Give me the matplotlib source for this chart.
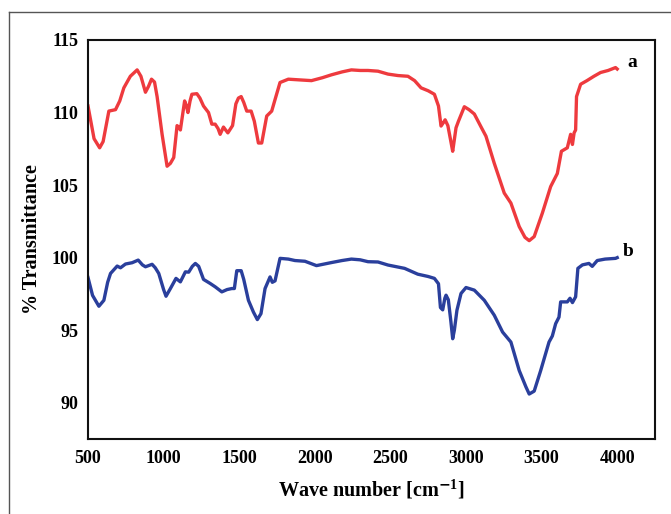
import matplotlib
matplotlib.use("Agg")
import matplotlib.pyplot as plt
from matplotlib.lines import Line2D

wn_a = [500, 540, 577, 600, 638, 682, 710, 737, 780, 825, 850, 880, 900, 920, 940, 957, 990,
        1023, 1045, 1067, 1089, 1100, 1111, 1125, 1139, 1150, 1161, 1175, 1187, 1220, 1240,
        1264, 1297, 1319, 1341, 1360, 1374, 1396, 1410, 1425, 1456, 1478, 1495, 1513, 1530,
        1550, 1579, 1600, 1627, 1649, 1682, 1715, 1740, 1770, 1825, 1900, 1978, 2050, 2110,
        2180, 2242, 2300, 2352, 2418, 2484, 2550, 2616, 2660, 2703, 2750, 2791, 2818, 2835,
        2850, 2862, 2880, 2900, 2912, 2934, 2950, 2989, 3020, 3055, 3100, 3132, 3187, 3253,
        3297, 3352, 3390, 3418, 3451, 3505, 3560, 3604, 3631, 3670, 3692, 3704, 3715, 3725,
        3731, 3758, 3800, 3846, 3890, 3940, 3989, 4000]
t_a = [110.45, 108.2, 107.57, 108.0, 110.1, 110.2, 110.8, 111.7, 112.5, 112.94, 112.5, 111.4,
       111.8, 112.3, 112.1, 111.1, 108.5, 106.3, 106.5, 106.9, 109.1, 109.0, 108.8, 109.8,
       110.8, 110.5, 110.0, 110.8, 111.26, 111.3, 111.0, 110.45, 110.0, 109.2, 109.2, 108.9,
       108.5, 109.0, 108.8, 108.6, 109.1, 110.6, 111.0, 111.1, 110.7, 110.1, 110.1, 109.4,
       107.9, 107.9, 109.76, 110.1, 111.0, 112.07, 112.3, 112.25, 112.2, 112.4, 112.6, 112.8,
       112.94, 112.9, 112.9, 112.85, 112.65, 112.55, 112.5, 112.2, 111.7, 111.5, 111.26,
       110.45, 109.07, 109.3, 109.5, 109.1, 108.0, 107.33, 108.95, 109.4, 110.4, 110.2, 109.9,
       109.0, 108.37, 106.5, 104.45, 103.76, 102.14, 101.4, 101.17, 101.45, 103.07, 104.9,
       105.8, 107.33, 107.57, 108.5, 107.8, 108.6, 108.8, 111.1, 111.95, 112.2, 112.5, 112.76,
       112.9, 113.1, 113.0]

wn_b = [500, 530, 572, 605, 630, 649, 693, 715, 748, 792, 832, 860, 880, 924, 945, 968, 1000,
        1016, 1045, 1082, 1111, 1144, 1166, 1190, 1210, 1232, 1264, 1308, 1341, 1385, 1420,
        1451, 1468, 1484, 1513, 1530, 1561, 1594, 1620, 1644, 1671, 1704, 1719, 1737, 1770,
        1825, 1869, 1935, 2011, 2110, 2180, 2242, 2300, 2352, 2418, 2484, 2594, 2681, 2750,
        2791, 2818, 2831, 2846, 2860, 2868, 2883, 2900, 2912, 2923, 2940, 2967, 3000, 3055,
        3121, 3187, 3242, 3297, 3352, 3396, 3418, 3451, 3494, 3549, 3571, 3593, 3615, 3626,
        3670, 3688, 3704, 3725, 3740, 3770, 3813, 3835, 3868, 3920, 3989, 4000]
t_b = [98.63, 97.4, 96.65, 97.06, 98.3, 98.91, 99.42, 99.3, 99.56, 99.65, 99.83, 99.5, 99.37,
       99.54, 99.3, 98.91, 97.8, 97.34, 97.87, 98.57, 98.33, 99.02, 99.0, 99.4, 99.6, 99.4,
       98.5, 98.22, 97.99, 97.64, 97.8, 97.87, 97.87, 99.1, 99.1, 98.5, 97.06, 96.25, 95.73,
       96.14, 97.87, 98.67, 98.3, 98.4, 99.95, 99.9, 99.8, 99.75, 99.45, 99.66, 99.8, 99.9,
       99.85, 99.72, 99.7, 99.49, 99.26, 98.86, 98.7, 98.57, 98.2, 96.56, 96.4, 97.2, 97.41,
       97.1, 95.6, 94.41, 95.0, 96.37, 97.53, 97.94, 97.76, 97.06, 96.03, 94.87, 94.18, 92.22,
       91.1, 90.6, 90.8, 92.22, 94.18, 94.6, 95.45, 95.9, 96.95, 96.95, 97.2, 96.9, 97.3,
       99.26, 99.5, 99.6, 99.4, 99.8, 99.9, 99.95, 100.0]

series_labels = ["a", "b"]
x_ticks = [500, 1000, 1500, 2000, 2500, 3000, 3500, 4000]
y_ticks = [90, 95, 100, 105, 110, 115]

plt.rcParams['font.family'] = ['Liberation Serif', 'DejaVu Serif']
plt.rcParams['font.weight'] = 'bold'
plt.rcParams['mathtext.fontset'] = 'custom'
plt.rcParams['mathtext.rm'] = 'Liberation Serif:bold'
plt.rcParams['mathtext.bf'] = 'Liberation Serif:bold'
plt.rcParams['mathtext.it'] = 'Liberation Serif:bold'

fig = plt.figure(figsize=(6.71, 5.14), dpi=100)
ax = fig.add_axes([88/671, 1-439/514, (655-88)/671, (439-40)/514])

red = '#EE3A3E'
blue = '#2A3F9C'
ax.plot(wn_a, t_a, color=red, lw=2.4, solid_joinstyle='round')
ax.plot(wn_b, t_b, color=blue, lw=2.4, solid_joinstyle='round')

ax.text(4099, 113.48, series_labels[0], fontsize=14, fontweight='bold', ha='center', va='center')
ax.text(4073, 100.41, series_labels[1], fontsize=14, fontweight='bold', ha='center', va='center')

ax.set_xlim(500, 4250)
ax.set_ylim(87.5, 115)
ax.set_xticks(x_ticks)
ax.set_yticks(y_ticks)
ax.set_xticklabels([str(v) for v in x_ticks], fontsize=13, fontweight='bold')
ax.set_yticklabels([str(v) for v in y_ticks], fontsize=13, fontweight='bold')
ax.tick_params(axis='both', length=0)
ax.tick_params(axis='x', pad=8)
ax.tick_params(axis='y', pad=7)
for s in ax.spines.values():
    s.set_linewidth(1.5)
    s.set_color('#111111')

fig.text(371.5/671, 1-490/514, 'Wave number [cm$^{\\mathsf{-}1}$]', fontsize=14.5, fontweight='bold',
         ha='center', va='center')
fig.text(32/671, 1-239.5/514, '% Transmittance', fontsize=14.5, fontweight='bold',
         ha='center', va='center', rotation=90)

# outer frame (partially cropped)
fig.add_artist(Line2D([9/671, 9/671], [0, 1-12/514], transform=fig.transFigure, color='#555555', lw=1))
fig.add_artist(Line2D([9/671, 1], [1-12/514, 1-12/514], transform=fig.transFigure, color='#555555', lw=1))

fig.savefig('out.png', dpi=100)
